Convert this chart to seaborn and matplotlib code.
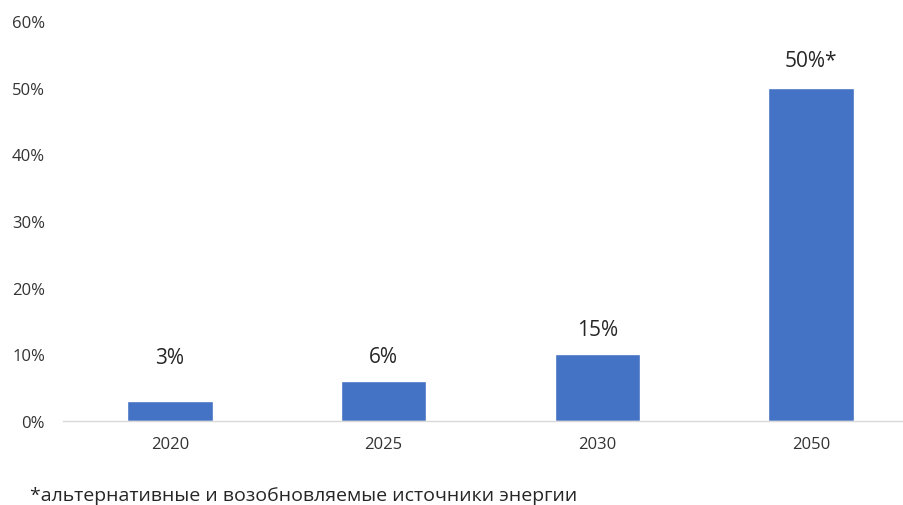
import numpy as np
import pandas as pd
import seaborn as sns
import matplotlib.pyplot as plt
from matplotlib.ticker import PercentFormatter

years = ['2020', '2025', '2030', '2050']
shares = [3, 6, 10, 50]
bar_labels = ['3%', '6%', '15%', '50%*']
label_offsets = [43, 24, 25, 27]  # px above bar top, as in the source
footnote = '*альтернативные и возобновляемые источники энергии'

sns.set_style('white')
plt.rcParams['font.family'] = ['Open Sans', 'DejaVu Sans']

fig = plt.figure(figsize=(9.04, 5.06), dpi=100)
ax = fig.add_axes([63 / 904, (506 - 422) / 506, 855 / 904, 400 / 506])

df = pd.DataFrame({'year': years, 'share': shares})
sns.barplot(data=df, x='year', y='share', color='#4472C4', saturation=1,
            width=0.4, ax=ax)

ax.set_ylim(0, 60)
ax.set_xlim(-0.5, 3.5)
ax.set_yticks(np.arange(0, 61, 10))
ax.yaxis.set_major_formatter(PercentFormatter(decimals=0))
ax.set_xlabel('')
ax.set_ylabel('')
ax.tick_params(axis='y', length=0, pad=13, labelsize=12, labelcolor='#333333')
ax.tick_params(axis='x', length=0, pad=11, labelsize=12, labelcolor='#333333')

for s in ['top', 'right', 'left']:
    ax.spines[s].set_visible(False)
ax.spines['bottom'].set_color('#D9D9D9')
ax.spines['bottom'].set_linewidth(1)

for i, (v, lab, off) in enumerate(zip(shares, bar_labels, label_offsets)):
    ax.annotate(lab, (i, v), xytext=(0, off * 72 / 100), textcoords='offset points',
                ha='center', va='center', fontsize=15, color='#262626')

fig.text(30 / 904, 1 - 496 / 506, footnote, ha='left', va='center',
         fontsize=14, color='#262626')

fig.savefig('out.png', dpi=100)
